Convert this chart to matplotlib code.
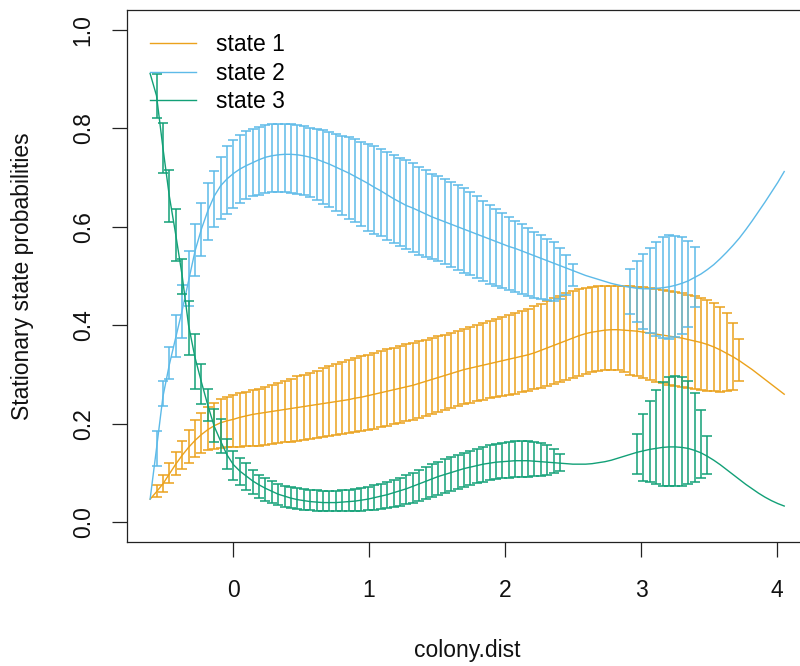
import numpy as np
import matplotlib.pyplot as plt

plt.rcParams['font.family'] = ['Liberation Sans', 'DejaVu Sans']

# covariate grid (100 values over the observed range of colony.dist)
colony_dist = np.linspace(-0.61, 4.053, 100)

state1_mean = [0.047, 0.062, 0.078, 0.098, 0.118, 0.136, 0.152, 0.166, 0.178, 0.188,
               0.196, 0.202, 0.206, 0.209, 0.213, 0.216, 0.219, 0.221, 0.223, 0.225,
               0.227, 0.229, 0.231, 0.233, 0.235, 0.237, 0.239, 0.241, 0.243, 0.245,
               0.247, 0.249, 0.252, 0.254, 0.257, 0.260, 0.263, 0.266, 0.269, 0.272,
               0.275, 0.278, 0.282, 0.286, 0.290, 0.294, 0.298, 0.302, 0.306, 0.310,
               0.313, 0.316, 0.319, 0.322, 0.325, 0.328, 0.331, 0.334, 0.337, 0.340,
               0.344, 0.349, 0.354, 0.359, 0.364, 0.369, 0.374, 0.379, 0.383, 0.386,
               0.388, 0.390, 0.391, 0.391, 0.390, 0.389, 0.388, 0.386, 0.384, 0.382,
               0.380, 0.378, 0.376, 0.374, 0.371, 0.368, 0.365, 0.361, 0.356, 0.350,
               0.343, 0.336, 0.328, 0.319, 0.310, 0.300, 0.290, 0.280, 0.270, 0.260]
state1_upper = [None, 0.075, 0.097, 0.120, 0.143, 0.166, 0.188, 0.207, 0.222, 0.234,
                0.243, 0.250, 0.255, 0.258, 0.262, 0.265, 0.268, 0.271, 0.275, 0.279,
                0.283, 0.287, 0.291, 0.296, 0.300, 0.304, 0.308, 0.313, 0.317, 0.321,
                0.325, 0.329, 0.333, 0.337, 0.340, 0.344, 0.347, 0.351, 0.354, 0.358,
                0.361, 0.364, 0.368, 0.371, 0.375, 0.378, 0.381, 0.385, 0.389, 0.393,
                0.396, 0.400, 0.404, 0.408, 0.412, 0.416, 0.420, 0.424, 0.429, 0.434,
                0.439, 0.444, 0.450, 0.455, 0.460, 0.465, 0.469, 0.473, 0.476, 0.478,
                0.479, 0.480, 0.480, 0.480, 0.480, 0.479, 0.478, 0.477, 0.475, 0.473,
                0.471, 0.469, 0.467, 0.465, 0.462, 0.459, 0.456, 0.451, 0.446, 0.437,
                0.424, 0.404, 0.373, None, None, None, None, None, None, None]
state1_lower = [None, 0.052, 0.062, 0.080, 0.095, 0.108, 0.120, 0.133, 0.141, 0.146,
                0.149, 0.151, 0.152, 0.152, 0.153, 0.154, 0.154, 0.155, 0.156, 0.158,
                0.160, 0.162, 0.164, 0.166, 0.168, 0.170, 0.172, 0.174, 0.176, 0.178,
                0.180, 0.182, 0.184, 0.186, 0.188, 0.190, 0.193, 0.196, 0.199, 0.202,
                0.205, 0.208, 0.212, 0.216, 0.220, 0.224, 0.228, 0.232, 0.236, 0.240,
                0.243, 0.246, 0.249, 0.252, 0.254, 0.256, 0.258, 0.261, 0.264, 0.267,
                0.270, 0.273, 0.276, 0.280, 0.284, 0.289, 0.293, 0.297, 0.301, 0.305,
                0.307, 0.309, 0.310, 0.309, 0.305, 0.300, 0.296, 0.292, 0.288, 0.285,
                0.282, 0.279, 0.277, 0.275, 0.273, 0.271, 0.269, 0.267, 0.266, 0.265,
                0.266, 0.268, 0.287, None, None, None, None, None, None, None]

state2_mean = [0.047, 0.150, 0.255, 0.320, 0.375, 0.430, 0.490, 0.550, 0.595, 0.632,
               0.662, 0.683, 0.697, 0.708, 0.717, 0.724, 0.730, 0.736, 0.741, 0.744,
               0.746, 0.747, 0.747, 0.746, 0.744, 0.741, 0.737, 0.732, 0.727, 0.721,
               0.715, 0.709, 0.702, 0.695, 0.688, 0.680, 0.673, 0.665, 0.657, 0.650,
               0.643, 0.638, 0.632, 0.626, 0.620, 0.615, 0.610, 0.605, 0.600, 0.595,
               0.590, 0.585, 0.580, 0.575, 0.570, 0.565, 0.560, 0.556, 0.551, 0.546,
               0.541, 0.536, 0.531, 0.526, 0.521, 0.516, 0.511, 0.506, 0.501, 0.497,
               0.493, 0.489, 0.485, 0.482, 0.479, 0.477, 0.475, 0.474, 0.474, 0.475,
               0.476, 0.478, 0.481, 0.485, 0.490, 0.497, 0.504, 0.513, 0.523, 0.535,
               0.548, 0.562, 0.577, 0.594, 0.612, 0.631, 0.650, 0.670, 0.690, 0.712]
state2_upper = [None, 0.185, 0.287, 0.356, 0.420, 0.482, 0.550, 0.605, 0.648, 0.688,
                0.714, 0.742, 0.764, 0.776, 0.787, 0.794, 0.799, 0.803, 0.806, 0.808,
                0.809, 0.809, 0.808, 0.806, 0.804, 0.801, 0.799, 0.796, 0.792, 0.788,
                0.785, 0.782, 0.778, 0.773, 0.768, 0.763, 0.758, 0.752, 0.746, 0.740,
                0.735, 0.729, 0.722, 0.715, 0.707, 0.702, 0.697, 0.691, 0.685, 0.678,
                0.670, 0.662, 0.653, 0.644, 0.636, 0.628, 0.620, 0.612, 0.605, 0.598,
                0.590, 0.583, 0.576, 0.568, 0.556, 0.542, 0.525, None, None, None,
                None, None, None, None, None, 0.514, 0.530, 0.545, 0.557, 0.569,
                0.579, 0.583, 0.581, 0.579, 0.571, 0.559, None, None, None, None,
                None, None, None, None, None, None, None, None, None, None]
state2_lower = [None, 0.114, 0.236, 0.291, 0.335, 0.375, 0.440, 0.500, 0.540, 0.574,
                0.600, 0.615, 0.625, 0.638, 0.648, 0.656, 0.662, 0.665, 0.668, 0.670,
                0.671, 0.671, 0.669, 0.667, 0.664, 0.660, 0.655, 0.647, 0.640, 0.632,
                0.624, 0.616, 0.609, 0.601, 0.592, 0.586, 0.581, 0.574, 0.567, 0.560,
                0.554, 0.549, 0.543, 0.539, 0.535, 0.530, 0.525, 0.519, 0.513, 0.507,
                0.501, 0.495, 0.489, 0.484, 0.480, 0.476, 0.472, 0.467, 0.463, 0.459,
                0.456, 0.453, 0.451, 0.450, 0.453, 0.462, 0.480, None, None, None,
                None, None, None, None, None, 0.423, 0.406, 0.392, 0.384, 0.378,
                0.374, 0.372, 0.376, 0.382, 0.396, 0.437, None, None, None, None,
                None, None, None, None, None, None, None, None, None, None]

state3_mean = [0.911, 0.866, 0.760, 0.662, 0.584, 0.501, 0.400, 0.335, 0.285, 0.238,
               0.195, 0.165, 0.137, 0.117, 0.104, 0.094, 0.084, 0.076, 0.069, 0.063,
               0.057, 0.053, 0.049, 0.046, 0.044, 0.042, 0.041, 0.040, 0.040, 0.040,
               0.041, 0.042, 0.043, 0.045, 0.047, 0.050, 0.053, 0.056, 0.060, 0.064,
               0.068, 0.073, 0.078, 0.083, 0.088, 0.093, 0.097, 0.101, 0.105, 0.109,
               0.112, 0.115, 0.118, 0.120, 0.122, 0.123, 0.124, 0.125, 0.125, 0.125,
               0.124, 0.123, 0.122, 0.121, 0.120, 0.119, 0.118, 0.118, 0.118, 0.119,
               0.121, 0.123, 0.126, 0.130, 0.134, 0.138, 0.142, 0.145, 0.148, 0.150,
               0.152, 0.153, 0.153, 0.152, 0.150, 0.146, 0.141, 0.134, 0.126, 0.117,
               0.107, 0.097, 0.087, 0.077, 0.068, 0.059, 0.051, 0.044, 0.038, 0.033]
state3_upper = [None, 0.910, 0.810, 0.715, 0.635, 0.535, 0.450, 0.382, 0.321, 0.270,
                0.230, 0.209, 0.170, 0.145, 0.130, 0.120, 0.107, 0.097, 0.089, 0.083,
                0.078, 0.074, 0.071, 0.069, 0.067, 0.066, 0.065, 0.064, 0.064, 0.064,
                0.065, 0.066, 0.068, 0.070, 0.072, 0.075, 0.078, 0.082, 0.086, 0.090,
                0.095, 0.100, 0.106, 0.112, 0.118, 0.123, 0.128, 0.133, 0.137, 0.141,
                0.145, 0.149, 0.153, 0.156, 0.159, 0.161, 0.163, 0.165, 0.165, 0.165,
                0.164, 0.161, 0.156, 0.148, 0.138, None, None, None, None, None,
                None, None, None, None, None, None, 0.179, 0.220, 0.246, 0.268,
                0.285, 0.294, 0.297, 0.295, 0.287, 0.262, 0.228, 0.175, None, None,
                None, None, None, None, None, None, None, None, None, None]
state3_lower = [None, 0.820, 0.710, 0.610, 0.530, 0.463, 0.340, 0.270, 0.240, 0.205,
                0.163, 0.140, 0.108, 0.085, 0.075, 0.066, 0.058, 0.050, 0.044, 0.039,
                0.035, 0.031, 0.028, 0.026, 0.025, 0.024, 0.023, 0.022, 0.022, 0.022,
                0.022, 0.022, 0.022, 0.023, 0.024, 0.025, 0.027, 0.029, 0.031, 0.034,
                0.037, 0.040, 0.044, 0.048, 0.052, 0.056, 0.060, 0.064, 0.068, 0.072,
                0.076, 0.079, 0.082, 0.085, 0.087, 0.089, 0.090, 0.091, 0.092, 0.092,
                0.093, 0.094, 0.096, 0.100, 0.104, None, None, None, None, None,
                None, None, None, None, None, None, 0.098, 0.083, 0.081, 0.077,
                0.074, 0.073, 0.073, 0.074, 0.077, 0.081, 0.090, 0.098, None, None,
                None, None, None, None, None, None, None, None, None, None]

state_labels = ['state 1', 'state 2', 'state 3']
state_cols = ['#EBA21C', '#5DBAE8', '#12A077']
x_ticks = [0, 1, 2, 3, 4]
y_ticks = [0.0, 0.2, 0.4, 0.6, 0.8, 1.0]

fig = plt.figure(figsize=(8, 6.66), dpi=100)
ax = fig.add_axes([0.15875, 0.1862, 0.855, 0.7988])

series = [(state1_mean, state1_lower, state1_upper),
          (state2_mean, state2_lower, state2_upper),
          (state3_mean, state3_lower, state3_upper)]

for (mean, lower, upper), col, lab in zip(series, state_cols, state_labels):
    m = np.array(mean, dtype=float)
    lo = np.array(lower, dtype=float)
    hi = np.array(upper, dtype=float)
    ax.plot(colony_dist, m, color=col, lw=1.0, label=lab)
    ok = ~np.isnan(lo)
    ax.errorbar(colony_dist[ok], (lo[ok] + hi[ok]) / 2, yerr=(hi[ok] - lo[ok]) / 2,
                fmt='none', ecolor=col, elinewidth=1.1, capsize=3.6, capthick=1.1)

ax.set_xlim(-0.78, 4.25)
ax.set_ylim(-0.04, 1.04)
ax.spines['right'].set_visible(False)
for s in ['left', 'bottom', 'top']:
    ax.spines[s].set_linewidth(0.9)
    ax.spines[s].set_color('#222222')

ax.set_xticks(x_ticks)
ax.set_xticklabels([str(t) for t in x_ticks])
ax.set_yticks(y_ticks)
ax.set_yticklabels(['%.1f' % t for t in y_ticks], rotation=90, va='center')
ax.tick_params(axis='both', length=10.8, width=0.9, color='#222222',
               labelsize=16.5, labelcolor='#111111')
ax.tick_params(axis='x', pad=16)
ax.tick_params(axis='y', pad=12.5)

fig.text(467 / 800, 1 - 651 / 666, 'colony.dist', ha='center', va='center',
         fontsize=16.5, color='#111111')
fig.text(23 / 800, 1 - 276 / 666, 'Stationary state probabilities', ha='center',
         va='center', rotation=90, fontsize=16.5, color='#111111')

ax.legend(loc='upper left', bbox_to_anchor=(0.0336, 0.957), frameon=False,
          handlelength=2.0, handletextpad=0.9, labelspacing=0.25,
          borderaxespad=0, borderpad=0, fontsize=16.5)

fig.savefig('out.png', dpi=100)
